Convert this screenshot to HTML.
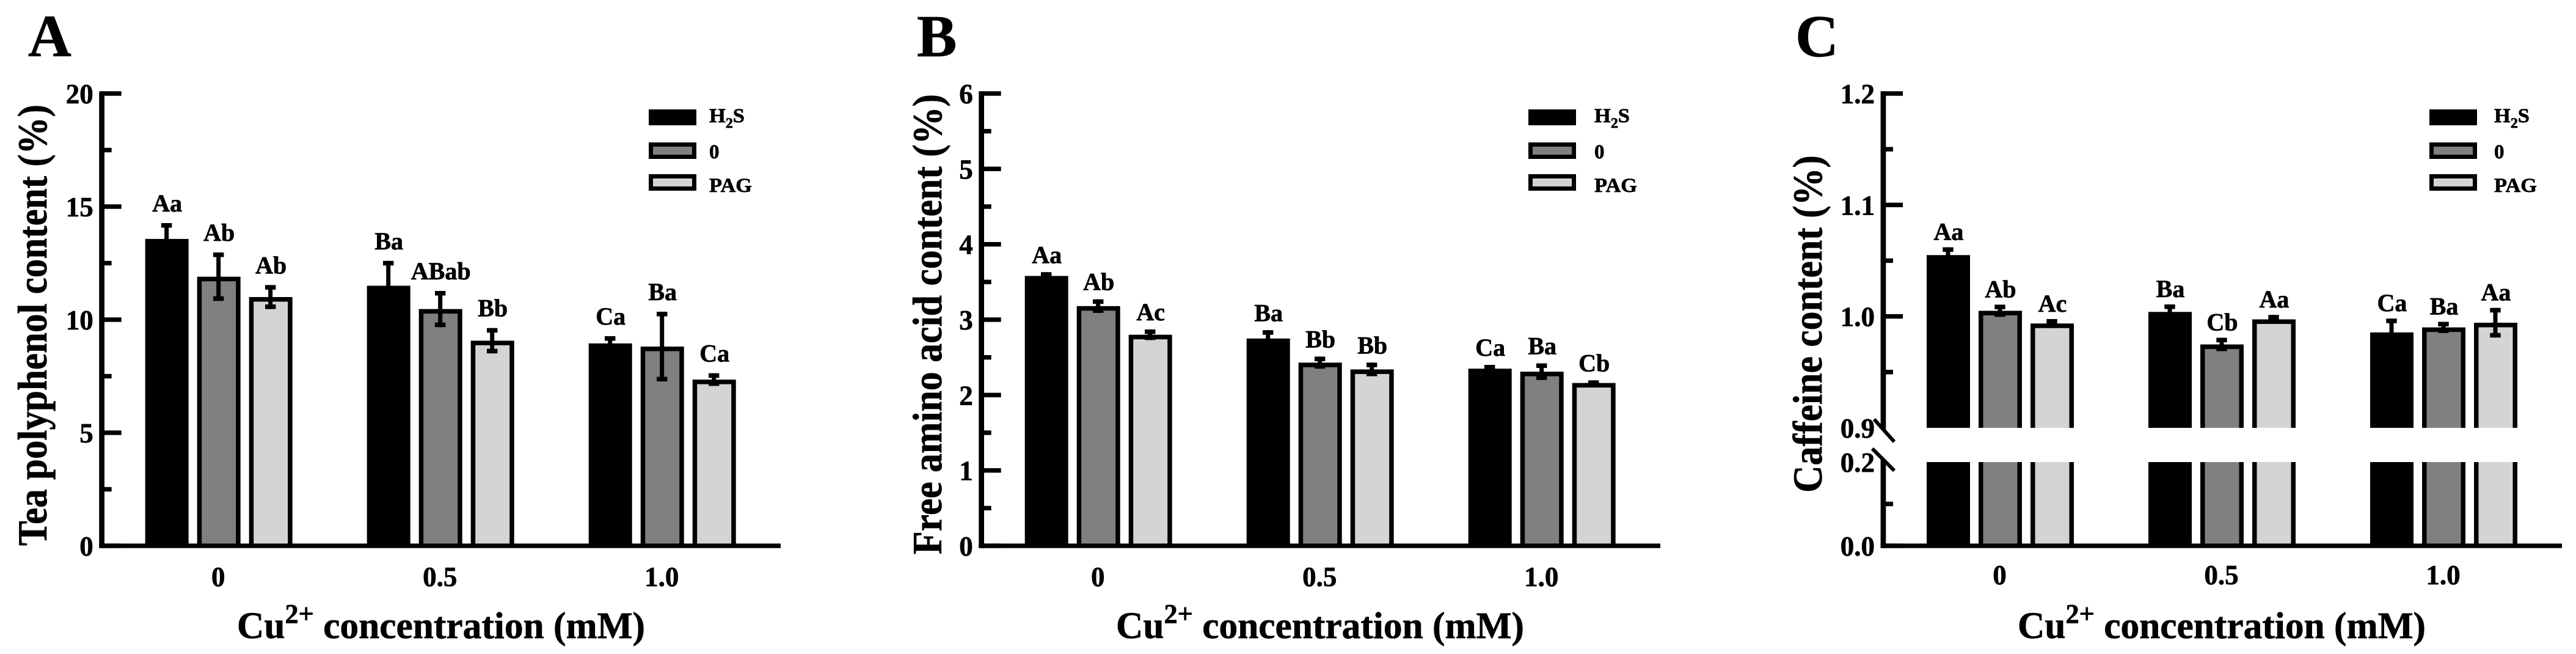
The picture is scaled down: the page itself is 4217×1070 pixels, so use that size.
<!DOCTYPE html>
<html lang="en">
<head>
<meta charset="utf-8">
<title>Tea polyphenol, free amino acid and caffeine content</title>
<style>
html,body{margin:0;padding:0;background:#fff;}
svg{display:block;}
text{font-family:"Liberation Serif",serif;font-weight:bold;fill:#000;white-space:pre;stroke:#000;stroke-width:0.7px;}
</style>
</head>
<body>
<svg id="chart" xmlns="http://www.w3.org/2000/svg" width="4217" height="1070" viewBox="0 0 4217 1070"></svg>
<script>
// Shared categories
const categories = ['0', '0.5', '1.0'];
const seriesNames = ['H2S', '0', 'PAG'];

// Panel A: tea polyphenol
const polyTicks = [0, 5, 10, 15, 20];
const polyMinorTicks = [2.5, 7.5, 12.5, 17.5];
const polyH2S = [13.57, 11.5, 8.95];
const polyH2SErr = [0.7, 1.1, 0.32];
const polyZero = [11.9, 10.47, 8.81];
const polyZeroErr = [1.07, 0.8, 1.54];
const polyPag = [11.0, 9.07, 7.35];
const polyPagErr = [0.53, 0.56, 0.28];
const polyH2SLabels = ['Aa', 'Ba', 'Ca'];
const polyZeroLabels = ['Ab', 'ABab', 'Ba'];
const polyPagLabels = ['Ab', 'Bb', 'Ca'];

// Panel B: free amino acid
const aminoTicks = [0, 1, 2, 3, 4, 5, 6];
const aminoMinorTicks = [0.5, 1.5, 2.5, 3.5, 4.5, 5.5];
const aminoH2S = [3.58, 2.75, 2.35];
const aminoH2SErr = [0.05, 0.11, 0.05];
const aminoZero = [3.18, 2.43, 2.31];
const aminoZeroErr = [0.09, 0.08, 0.11];
const aminoPag = [2.80, 2.34, 2.16];
const aminoPagErr = [0.07, 0.09, 0.035];
const aminoH2SLabels = ['Aa', 'Ba', 'Ca'];
const aminoZeroLabels = ['Ab', 'Bb', 'Ba'];
const aminoPagLabels = ['Ac', 'Bb', 'Cb'];

// Panel C: caffeine (broken axis)
const caffeineTicks = [0, 0.2, 0.9, 1.0, 1.1, 1.2];
const caffeineTickLabels = ['0.0', '0.2', '0.9', '1.0', '1.1', '1.2'];
const caffeineMinorTicks = [0.1, 0.95, 1.05, 1.15];
const caffeineUnmarkedTicks = [0.2, 0.9];
const caffeineH2S = [1.055, 1.004, 0.9856];
const caffeineH2SErr = [0.007, 0.0067, 0.0124];
const caffeineZero = [1.005, 0.9748, 0.9901];
const caffeineZeroErr = [0.0055, 0.006, 0.005];
const caffeinePag = [0.9936, 0.9973, 0.9943];
const caffeinePagErr = [0.004, 0.004, 0.0133];
const caffeineH2SLabels = ['Aa', 'Ba', 'Ca'];
const caffeineZeroLabels = ['Ab', 'Cb', 'Ba'];
const caffeinePagLabels = ['Ac', 'Aa', 'Aa'];

const fills = ['#000000', '#808080', '#d4d4d4'];
const svg = document.getElementById('chart');
const NS = 'http://www.w3.org/2000/svg';

function make(parent, tag, attrs, content) {
  const el = document.createElementNS(NS, tag);
  for (const k in attrs) el.setAttribute(k, attrs[k]);
  if (content !== undefined) el.textContent = content;
  parent.appendChild(el);
  return el;
}

function box(parent, x, y, w, h, fill) {
  return make(parent, 'rect', {x: x, y: y, width: w, height: h, fill: fill});
}

const Y_BASE = 893;
const Y_TOP = 153;

function linearY(max) {
  return v => Y_BASE - (v / max) * (Y_BASE - Y_TOP);
}

function brokenY(v) {
  if (v >= 0.9) return Y_TOP + (1.2 - v) * 1823;
  return Y_BASE - v * 685;
}

function drawPanel(p) {
  const g = make(svg, 'g', {});
  
  

  const ax = p.axisX;
  const groupX = i => ax + 71 + i * 363;
  const barX = (i, s) => groupX(i) + s * 85;
  const BAR_W = 71;
  const BORDER = 7.5;

  const letter = make(g, 'text', {x: p.letterX, y: 92, 'font-size': 98}, p.letter);
  
  

  // Bars, error bars, significance labels
  p.series.forEach((vals, s) => {
    vals.forEach((v, i) => {
      const x = barX(i, s);
      const top = p.y(v);
      const bar = make(g, 'g', {});
      
      
      if (p.broken) {
        box(bar, x, top, BAR_W, p.breakTop - top, '#000');
        box(bar, x + BORDER, top + BORDER, BAR_W - 2 * BORDER, p.breakTop - top - BORDER, fills[s]);
        box(bar, x, p.breakBottom, BAR_W, Y_BASE - p.breakBottom, '#000');
        box(bar, x + BORDER, p.breakBottom, BAR_W - 2 * BORDER, Y_BASE - p.breakBottom, fills[s]);
      } else {
        box(bar, x, top, BAR_W, Y_BASE - top, '#000');
        box(bar, x + BORDER, top + BORDER, BAR_W - 2 * BORDER, Y_BASE - top - BORDER, fills[s]);
      }
      const cx = x + BAR_W / 2 - 0.5;
      const hi = p.y(v + p.errors[s][i]);
      const lo = p.y(v - p.errors[s][i]);
      const err = make(g, 'g', {});
      
      
      box(err, cx - 3.5, hi, 7, lo - hi, '#000');
      box(err, cx - 8.7, hi, 17.4, 7.5, '#000');
      box(err, cx - 8.7, lo - 7.5, 17.4, 7.5, '#000');
      const lab = make(g, 'text', {x: cx + 1, y: hi - p.labelGap, 'font-size': 40, 'text-anchor': 'middle'}, p.labels[s][i]);
      
      
    });
  });

  // Y axis line
  const yAxis = make(g, 'g', {});
  
  
  if (p.broken) {
    box(yAxis, ax - 4.4, Y_TOP - 3.7, 8.7, 706 - Y_TOP, '#000');
    box(yAxis, ax - 4.4, 752, 8.7, Y_BASE + 3.7 - 752, '#000');
    make(yAxis, 'line', {x1: ax - 15, y1: 686, x2: ax + 18, y2: 722.7, stroke: '#000', 'stroke-width': 6});
    make(yAxis, 'line', {x1: ax - 18, y1: 734, x2: ax + 18, y2: 770, stroke: '#000', 'stroke-width': 6});
  } else {
    box(yAxis, ax - 4.4, Y_TOP - 3.7, 8.7, Y_BASE - Y_TOP + 7.4, '#000');
  }

  // Ticks
  p.ticks.forEach((t, i) => {
    const y = p.y(t);
    if (!p.unmarked || !p.unmarked.includes(t)) {
      const tick = box(yAxis, ax, y - 3.7, 32, 7.4, '#000');
      
      
    }
    const lab = make(g, 'text', {x: ax - 14, y: y + 16, 'font-size': 45, 'text-anchor': 'end'}, p.tickLabels ? p.tickLabels[i] : String(t));
    
    
  });
  p.minor.forEach(t => {
    const tick = box(yAxis, ax, p.y(t) - 3.7, 16, 7.4, '#000');
    
    
  });

  // X axis line and labels
  const xAxis = box(g, ax - 4.4, Y_BASE - 3.7, p.axisEnd - ax + 4.4, 7.4, '#000');
  
  
  categories.forEach((c, i) => {
    const lab = make(g, 'text', {x: barX(i, 1) + BAR_W / 2 - 1, y: p.xTickY, 'font-size': 45, 'text-anchor': 'middle'}, c);
    
    
  });

  // X axis title
  const xTitle = make(g, 'text', {x: p.xTitleX, y: 1044, 'font-size': 61, textLength: 668, lengthAdjust: 'spacingAndGlyphs'});
  
  
  xTitle.appendChild(document.createTextNode('Cu'));
  make(xTitle, 'tspan', {dy: -25, 'font-size': 44}, '2+');
  make(xTitle, 'tspan', {dy: 25}, ' concentration (mM)');

  // Y axis title
  const yTitle = make(g, 'text', {
    transform: 'translate(' + p.yTitleX + ' ' + p.yTitleBottom + ') rotate(-90)',
    x: 0, y: 0, 'font-size': 68, textLength: p.yTitleLen, lengthAdjust: 'spacingAndGlyphs'
  }, p.yTitle);
  
  

  // Legend
  const legend = make(g, 'g', {});
  
  
  const swatchTop = [179, 233, 285];
  const swatchH = [26, 27, 27];
  seriesNames.forEach((name, s) => {
    const sw = make(legend, 'g', {});
    
    
    box(sw, p.legendX, swatchTop[s], 78, swatchH[s], '#000');
    if (s > 0) box(sw, p.legendX + 7, swatchTop[s] + 7, 64, swatchH[s] - 14, fills[s]);
  });
  const t1 = make(legend, 'text', {x: p.legendTextX, y: 200, 'font-size': 33, textLength: 58, lengthAdjust: 'spacingAndGlyphs'});
  
  
  t1.appendChild(document.createTextNode('H'));
  make(t1, 'tspan', {dy: 9, 'font-size': 23}, '2');
  make(t1, 'tspan', {dy: -9}, 'S');
  const t2 = make(legend, 'text', {x: p.legendTextX, y: 259, 'font-size': 33}, '0');
  
  
  const t3 = make(legend, 'text', {x: p.legendTextX, y: 314, 'font-size': 33, textLength: 70, lengthAdjust: 'spacingAndGlyphs'}, 'PAG');
  
  
}

drawPanel({
  letter: 'A', letterX: 46, axisX: 166.7, axisEnd: 1278, y: linearY(20),
  ticks: polyTicks, minor: polyMinorTicks,
  series: [polyH2S, polyZero, polyPag],
  errors: [polyH2SErr, polyZeroErr, polyPagErr],
  labels: [polyH2SLabels, polyZeroLabels, polyPagLabels],
  labelGap: 19, xTickY: 959, xTitleX: 388,
  yTitle: 'Tea polyphenol content (%)', yTitleX: 76, yTitleBottom: 893, yTitleLen: 722,
  legendX: 1062, legendTextX: 1161
});

drawPanel({
  letter: 'B', letterX: 1501, axisX: 1606.7, axisEnd: 2718, y: linearY(6),
  ticks: aminoTicks, minor: aminoMinorTicks,
  series: [aminoH2S, aminoZero, aminoPag],
  errors: [aminoH2SErr, aminoZeroErr, aminoPagErr],
  labels: [aminoH2SLabels, aminoZeroLabels, aminoPagLabels],
  labelGap: 15, xTickY: 959, xTitleX: 1827,
  yTitle: 'Free amino acid content (%)', yTitleX: 1541, yTitleBottom: 907, yTitleLen: 753,
  legendX: 2502, legendTextX: 2610
});

drawPanel({
  letter: 'C', letterX: 2939, axisX: 3083, axisEnd: 4194, y: brokenY,
  broken: true, breakTop: 700, breakBottom: 756,
  ticks: caffeineTicks, tickLabels: caffeineTickLabels, minor: caffeineMinorTicks, unmarked: caffeineUnmarkedTicks,
  series: [caffeineH2S, caffeineZero, caffeinePag],
  errors: [caffeineH2SErr, caffeineZeroErr, caffeinePagErr],
  labels: [caffeineH2SLabels, caffeineZeroLabels, caffeinePagLabels],
  labelGap: 12, xTickY: 956, xTitleX: 3303,
  yTitle: 'Caffeine content (%)', yTitleX: 2982, yTitleBottom: 806, yTitleLen: 552,
  legendX: 3977, legendTextX: 4083
});
</script>
</body>
</html>
